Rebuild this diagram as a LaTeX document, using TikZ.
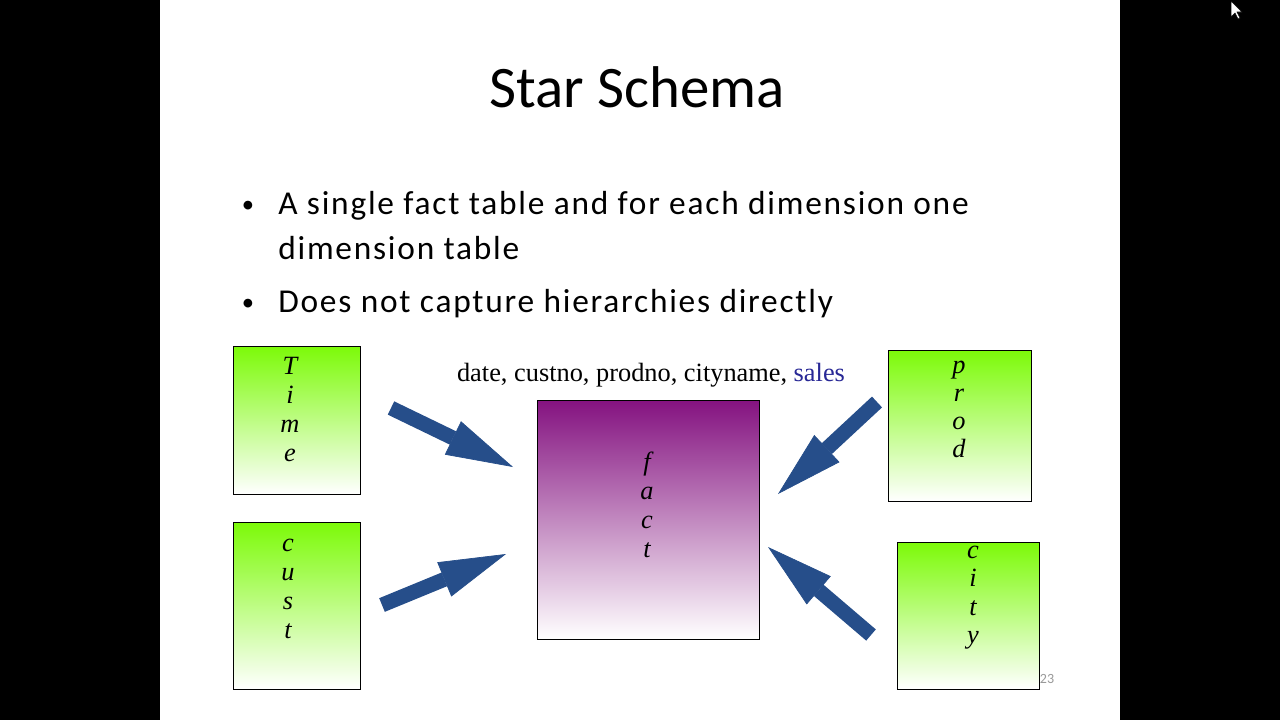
\documentclass[tikz,border=0pt]{standalone}
\usepackage{fontspec}
\setmainfont{Liberation Serif}
\newfontfamily\slidefont{Carlito}
\newfontfamily\bulletfont[LetterSpace=5.3]{Carlito}
\usepackage{xcolor}
\usetikzlibrary{arrows.meta}
\definecolor{arrowblue}{RGB}{38,78,138}
\definecolor{dimgreen}{RGB}{124,250,8}
\definecolor{factpurple}{RGB}{132,18,128}
\definecolor{salesblue}{RGB}{40,40,150}
\tikzset{
boxline/.style={line width=0.5pt},
dimtable/.style 2 args={
	draw, boxline, inner sep=0pt, outer sep=0pt,
	top color=dimgreen, bottom color=white,
	minimum width=#1, minimum height=#2
},
facttable/.style 2 args={
	draw, boxline, inner sep=0pt, outer sep=0pt,
	top color=factpurple, bottom color=white,
	minimum width=#1, minimum height=#2
},
letter/.style={font=\fontsize{15}{15}\selectfont\itshape, anchor=base, inner sep=0pt},
slidetext/.style={font=\bulletfont\fontsize{19}{22}\selectfont, anchor=base west, inner sep=0pt},
bulletdot/.style={font=\slidefont\fontsize{14}{16}\selectfont, anchor=base, inner sep=0pt},
bigarrow/.style={draw=arrowblue, line width=8.4pt,
	-{Triangle[length=38pt,width=21pt,line width=0.4pt]}},
}

\begin{document}
\begin{tikzpicture}[x=0.02cm, y=-0.02cm]
	%
	\fill[black] (0,0) rectangle (1280,720);
	\fill[white] (160,0) rectangle (1120,720);
	
	%
	\node[font=\slidefont\fontsize{33.5}{40}\selectfont, anchor=base] (title) at (637,107) {Star Schema};
	\node[bulletdot] (dot1) at (248,212) {•};
	\node[slidetext] (b1) at (278,214) {A single fact table and for each dimension one};
	\node[slidetext] (b1b) at (278,259) {dimension table};
	\node[bulletdot] (dot2) at (248,310) {•};
	\node[slidetext] (b2) at (278,312) {Does not capture hierarchies directly};
	
	%
	\node[dimtable={2.54cm}{2.96cm}] (time) at (296.5,420) {};
	\node[dimtable={2.54cm}{3.34cm}] (cust) at (296.5,605.5) {};
	\node[facttable={4.44cm}{4.78cm}] (fact) at (648,519.5) {};
	\node[dimtable={2.86cm}{3.02cm}] (prod) at (959.5,425.5) {};
	\node[dimtable={2.84cm}{2.94cm}] (city) at (968,615.5) {};
	
	%
	\foreach \l [count=\i from 0] in {T,i,m,e}
		\node[letter] (time-\i) at (290,{374+29*\i}) {\l};
	\foreach \l [count=\i from 0] in {c,u,s,t}
		\node[letter] (cust-\i) at (288,{551+29*\i}) {\l};
	\foreach \l [count=\i from 0] in {f,a,c,t}
		\node[letter] (fact-\i) at (647,{470+29*\i}) {\l};
	\foreach \l [count=\i from 0] in {p,r,o,d}
		\node[letter] (prod-\i) at (959,{373+28*\i}) {\l};
	\foreach \l [count=\i from 0] in {c,i,t,y}
		\node[letter] (city-\i) at (973,{558+28.5*\i}) {\l};
	
	\node[font=\fontsize{15}{18}\selectfont, anchor=base] (keys) at (651,381)
		{date, custno, prodno, cityname, \textcolor{salesblue}{sales}};
	
	%
	\coordinate (time-tail) at (391,408);
	\coordinate (time-tip) at (513,467);
	\coordinate (cust-tail) at (382,605);
	\coordinate (cust-tip) at (506,554);
	\coordinate (prod-tail) at (877,402);
	\coordinate (prod-tip) at (778,494);
	\coordinate (city-tail) at (871,635);
	\coordinate (city-tip) at (768,547);
	\draw[bigarrow] (time-tail) -- (time-tip);
	\draw[bigarrow] (cust-tail) -- (cust-tip);
	\draw[bigarrow] (prod-tail) -- (prod-tip);
	\draw[bigarrow] (city-tail) -- (city-tip);
	
	\node[font=\slidefont\fontsize{8}{9}\selectfont, text=black!40, anchor=base] (pagenum) at (1047,683) {23};
	
	%
	\draw[fill=white, line width=0.3pt] (1231,1) -- (1231,17) -- (1235,13) -- (1238,19)
		-- (1240,18) -- (1237,12) -- (1242,12) -- cycle;
\end{tikzpicture}
\end{document}
